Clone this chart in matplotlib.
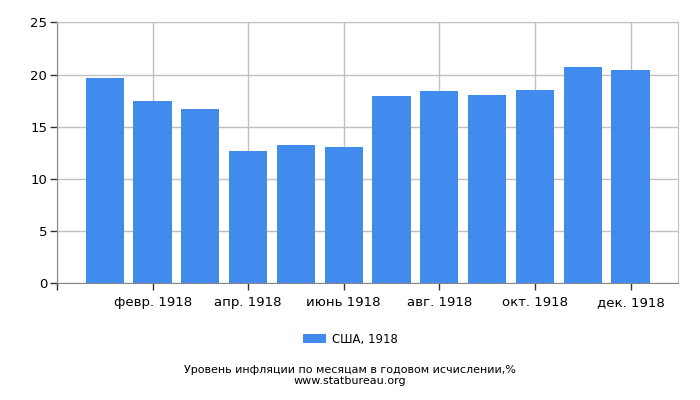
import matplotlib
matplotlib.use('Agg')
import matplotlib.pyplot as plt
import numpy as np

months = ['янв. 1918', 'февр. 1918', 'март 1918', 'апр. 1918', 'май 1918', 'июнь 1918',
          'июль 1918', 'авг. 1918', 'сент. 1918', 'окт. 1918', 'нояб. 1918', 'дек. 1918']
values = [19.7, 17.5, 16.7, 12.7, 13.2, 13.1, 17.9, 18.4, 18.0, 18.5, 20.7, 20.4]
series_name = 'США, 1918'
yticks = [0, 5, 10, 15, 20, 25]

plt.rcParams['font.family'] = ['DejaVu Sans']

fig = plt.figure(figsize=(7, 4), dpi=100)
ax = fig.add_axes([0.0814, 0.292, 0.8876, 0.652])

x = np.arange(len(months))
ax.bar(x, values, width=0.8, color='#418bee', label=series_name, zorder=3)

ax.set_xlim(-1, 12)
ax.set_ylim(0, 25)
ax.set_yticks(yticks)
ax.set_yticklabels([str(t) for t in yticks], fontsize=9.5)

tick_pos = [-1] + list(x[1::2])
tick_lab = [''] + months[1::2]
ax.set_xticks(tick_pos)
ax.set_xticklabels(tick_lab, fontsize=9.5)

ax.grid(True, color='#c0c0c0', linewidth=1, zorder=0)
for s in ['top', 'right']:
    ax.spines[s].set_color('#c0c0c0')
for s in ['left', 'bottom']:
    ax.spines[s].set_color('#888888')
ax.tick_params(axis='both', length=5, color='#333333', width=1)
ax.tick_params(axis='x', pad=4)
ax.tick_params(axis='y', pad=2)

fig.legend(loc='center', bbox_to_anchor=(0.5, 0.152), frameon=False, fontsize=8.4,
           handlelength=2.0, handleheight=0.8, handletextpad=0.5)

fig.text(0.5, 0.074, 'Уровень инфляции по месяцам в годовом исчислении,%',
         ha='center', va='center', fontsize=8)
fig.text(0.5, 0.047, 'www.statbureau.org', ha='center', va='center', fontsize=8)

fig.savefig('out.png', dpi=100)
